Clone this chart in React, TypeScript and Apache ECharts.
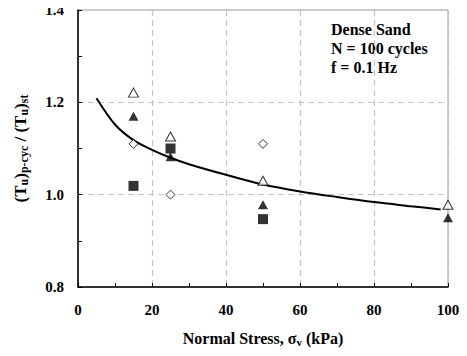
import React, { useEffect, useRef } from "react";
import * as echarts from "echarts";

const openTriangles: [number, number][] = [[15, 1.221], [25, 1.126], [50, 1.03], [100, 0.978]];
const filledTriangles: [number, number][] = [[15, 1.17], [25, 1.082], [50, 0.978], [100, 0.95]];
const openDiamonds: [number, number][] = [[15, 1.11], [25, 1.0], [50, 1.11]];
const filledSquares: [number, number][] = [[15, 1.019], [25, 1.1], [50, 0.947]];
const fitCurve: [number, number][] = [
  [5, 1.209], [10, 1.152], [15, 1.118], [20, 1.097], [25, 1.08], [30, 1.066],
  [40, 1.043], [50, 1.022], [60, 1.007], [70, 0.995], [80, 0.984], [90, 0.975], [98, 0.968],
];
const annotations = ["Dense Sand", "N = 100 cycles", "f = 0.1 Hz"];

const FONT = "'Liberation Serif', 'Times New Roman', serif";

export default function App() {
  const ref = useRef<HTMLDivElement>(null);
  useEffect(() => {
    if (!ref.current) return;
    const chart = echarts.init(ref.current, undefined, { renderer: "svg" });
    const textBase = { fontFamily: FONT, fontWeight: "bold" as const, color: "#000" };
    chart.setOption({
      animation: false,
      backgroundColor: "#fff",
      grid: {
        left: 78, right: 19, top: 10, bottom: 69,
        show: true, borderColor: "#999", borderWidth: 1,
      },
      xAxis: {
        type: "value", min: 0, max: 100, interval: 20,
        name: "Normal Stress, σ{s|v} (kPa)",
        nameLocation: "middle", nameGap: 42,
        nameTextStyle: {
          ...textBase, fontSize: 16,
          rich: { s: { ...textBase, fontSize: 11, padding: [7, 0, 0, 0] } },
        },
        axisLine: { lineStyle: { color: "#000", width: 1.5 } },
        axisTick: { inside: true, length: 4, lineStyle: { color: "#000" } },
        minorTick: { show: true, splitNumber: 2, length: 4, lineStyle: { color: "#000" } },
        axisLabel: { ...textBase, fontSize: 15, margin: 15 },
        splitLine: { show: true, lineStyle: { color: "#c4c4c4", type: [6, 4], width: 1.2 } },
      },
      yAxis: {
        type: "value", min: 0.8, max: 1.4, interval: 0.2,
        name: "(T{s|u}){s|p-cyc} / (T{s|u}){s|st}",
        nameLocation: "middle", nameGap: 48, nameRotate: 90,
        nameTextStyle: {
          ...textBase, fontSize: 17,
          rich: { s: { ...textBase, fontSize: 12, padding: [8, 0, 0, 0] } },
        },
        axisLine: { show: true, lineStyle: { color: "#000", width: 1.5 } },
        axisTick: { show: true, inside: true, length: 4, lineStyle: { color: "#000" } },
        minorTick: { show: true, splitNumber: 2, length: 4, lineStyle: { color: "#000" } },
        axisLabel: { ...textBase, fontSize: 15, margin: 14, formatter: (v: number) => v.toFixed(1) },
        splitLine: { show: true, lineStyle: { color: "#c4c4c4", type: [6, 4], width: 1.2 } },
      },
      graphic: annotations.map((t, i) => ({
        type: "text", left: 331, top: 21 + i * 19,
        style: { text: t, font: `bold 16px ${FONT}`, fill: "#000" },
      })),
      series: [
        {
          type: "line", data: fitCurve, smooth: 0.3, showSymbol: false,
          lineStyle: { color: "#000", width: 2 }, z: 2,
        },
        {
          type: "scatter", data: openTriangles, symbol: "triangle", symbolSize: [10, 9],
          itemStyle: { color: "#fff", borderColor: "#000", borderWidth: 1 }, z: 3,
        },
        {
          type: "scatter", data: filledTriangles, symbol: "triangle", symbolSize: [10, 9],
          itemStyle: { color: "#000" }, z: 3,
        },
        {
          type: "scatter", data: openDiamonds, symbol: "diamond", symbolSize: [9, 9],
          itemStyle: { color: "#fff", borderColor: "#000", borderWidth: 1 }, z: 3,
        },
        {
          type: "scatter", data: filledSquares, symbol: "rect", symbolSize: [10, 10],
          itemStyle: { color: "#000" }, z: 3,
        },
      ],
    });
    return () => chart.dispose();
  }, []);
  return <div ref={ref} style={{ width: 467, height: 356, margin: -8 }} />;
}
